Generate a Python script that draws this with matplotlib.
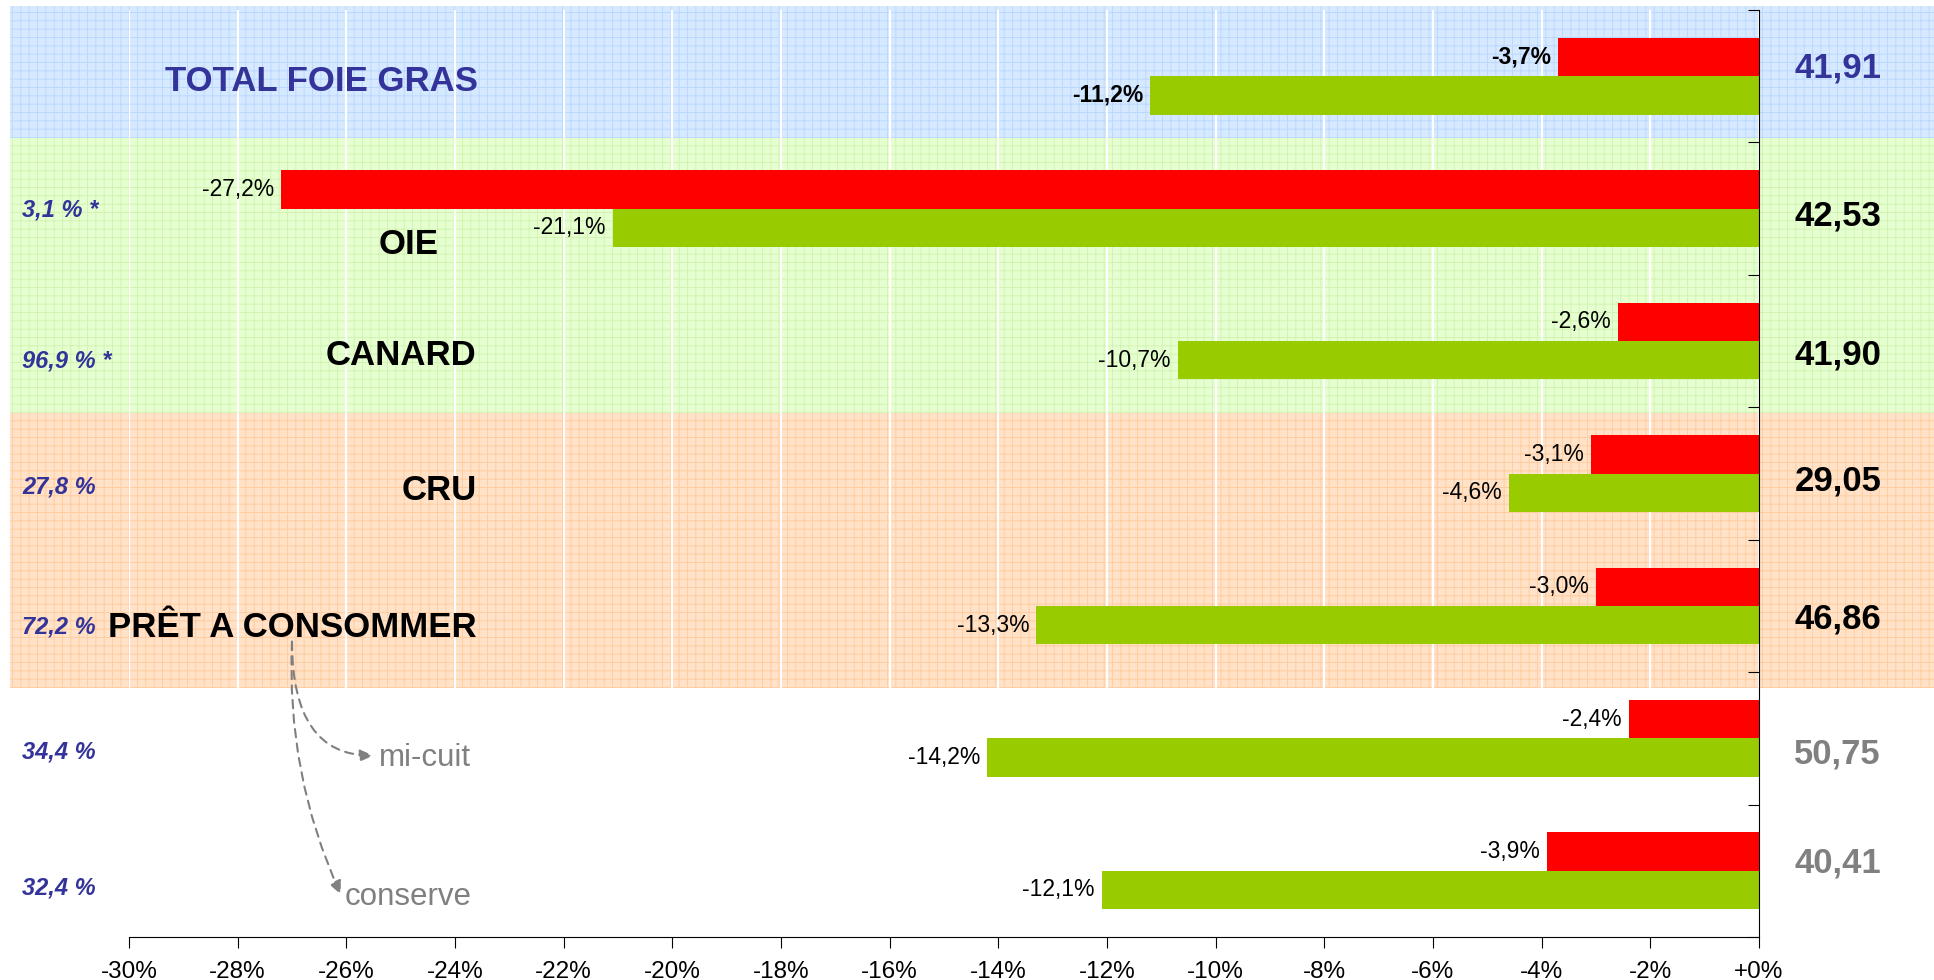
import matplotlib
matplotlib.use('Agg')
import matplotlib.pyplot as plt
from matplotlib.ticker import FuncFormatter

plt.rcParams['font.family'] = ['Liberation Sans', 'DejaVu Sans']
plt.rcParams['hatch.linewidth'] = 0.7

# donnees
categories = ["TOTAL FOIE GRAS", "OIE", "CANARD", "CRU", "PRÊT A CONSOMMER", "mi-cuit", "conserve"]
evol_rouge = [-3.7, -27.2, -2.6, -3.1, -3.0, -2.4, -3.9]
evol_vert = [-11.2, -21.1, -10.7, -4.6, -13.3, -14.2, -12.1]
prix = [41.91, 42.53, 41.90, 29.05, 46.86, 50.75, 40.41]
parts = ["", "3,1 % *", "96,9 % *", "27,8 %", "72,2 %", "34,4 %", "32,4 %"]
xticks = list(range(-30, 1, 2))

BLEU = '#333399'
ROUGE = '#FF0000'
VERT = '#99CC00'
GRIS = '#808080'

def fr(v, nd=1):
    return f"{v:.{nd}f}".replace('.', ',')

fig = plt.figure(figsize=(19.34, 9.8), dpi=100)
ax = fig.add_axes([129/1934, 1 - 937/980, 1630/1934, 927/980])
ax.set_facecolor('none')

# bandes de fond (bleu / vert / orange)
bandes = [(-0.53, 0.47, '#D6E9FF', '#BBD9FF'),
          (0.47, 2.54, '#E6FFD0', '#D2F3B2'),
          (2.54, 4.62, '#FFE2C8', '#FFCDA0')]
for y0, y1, fc, hc in bandes:
    ax.axhspan(y0, y1, xmin=-0.073, xmax=1.108, facecolor=fc, edgecolor=hc,
               hatch='++', lw=0, clip_on=False, zorder=0)

ax.set_xlim(-30, 0)
ax.set_ylim(6.5, -0.5)

h = 0.29
n = len(categories)
ys = list(range(n))
ax.barh([y - h/2 for y in ys], evol_rouge, height=h, color=ROUGE, zorder=2)
ax.barh([y + h/2 for y in ys], evol_vert, height=h, color=VERT, zorder=2)

for i in ys:
    w = 'bold' if i == 0 else 'normal'
    ax.annotate(fr(evol_rouge[i]) + '%', (evol_rouge[i], i - h/2), xytext=(-5, 0),
                textcoords='offset points', ha='right', va='center', fontsize=16.5,
                fontweight=w, zorder=3)
    ax.annotate(fr(evol_vert[i]) + '%', (evol_vert[i], i + h/2), xytext=(-5, 0),
                textcoords='offset points', ha='right', va='center', fontsize=16.5,
                fontweight=w, zorder=3)

# libelles des categories
lab_pos = [(-23.57, 0.04), (-24.3, 0.27), (-23.6, 0.11), (-23.6, 0.13), (-23.6, 0.16),
           (-23.7, 0.15), (-23.7, 0.2)]
for i, (lx, dy) in enumerate(lab_pos):
    if i == 0:
        c, fw, fs = BLEU, 'bold', 25
    elif i < 5:
        c, fw, fs = 'black', 'bold', 25
    else:
        c, fw, fs = GRIS, 'normal', 22.5
    ax.text(lx, i + dy, categories[i], ha='right', va='center', color=c,
            fontweight=fw, fontsize=fs, zorder=3)

# parts a gauche
part_dy = [0, 0.01, 0.15, 0.1, 0.16, 0.1, 0.13]
for i, p in enumerate(parts):
    if p:
        ax.text(-31.97, i + part_dy[i], p, ha='left', va='center', color=BLEU,
                fontsize=17, fontweight='bold', fontstyle='italic')

# prix a droite
prix_dy = [-0.06, 0.055, 0.105, 0.055, 0.1, 0.115, -0.06]
prix_col = [BLEU, 'black', 'black', 'black', 'black', GRIS, GRIS]
for i, v in enumerate(prix):
    ax.text(1.45, i + prix_dy[i], fr(v, 2), ha='center', va='center',
            color=prix_col[i], fontsize=25, fontweight='bold')

# fleches
fl = dict(arrowstyle='-|>,head_length=0.8,head_width=0.35', ls=(0, (4, 3)),
          color=GRIS, lw=1.5, shrinkA=0, shrinkB=0)
ax.annotate('', xy=(-25.5, 5.13), xytext=(-27.0, 4.27),
            arrowprops=dict(fl, connectionstyle='angle3,angleA=90,angleB=0'))
ax.annotate('', xy=(-26.1, 6.18), xytext=(-27.0, 4.27),
            arrowprops=dict(fl, connectionstyle='arc3,rad=0.12'))

# axes
ax.set_xticks(xticks)
ax.xaxis.set_major_formatter(FuncFormatter(lambda v, p: '+0%' if v == 0 else f"{int(v)}%"))
ax.tick_params(axis='x', direction='out', length=8, labelsize=17.5, pad=9)
ax.yaxis.set_ticks_position('right')
ax.set_yticks([y - 0.5 for y in range(n + 1)])
ax.tick_params(axis='y', direction='in', length=8, labelright=False, labelleft=False)
ax.grid(axis='x', color='white', lw=1.5, zorder=1)
ax.set_axisbelow(True)
for s in ['left', 'top']:
    ax.spines[s].set_visible(False)
ax.spines['bottom'].set_zorder(4)
ax.spines['right'].set_zorder(4)

plt.savefig('out.png', dpi=100)
plt.close()
